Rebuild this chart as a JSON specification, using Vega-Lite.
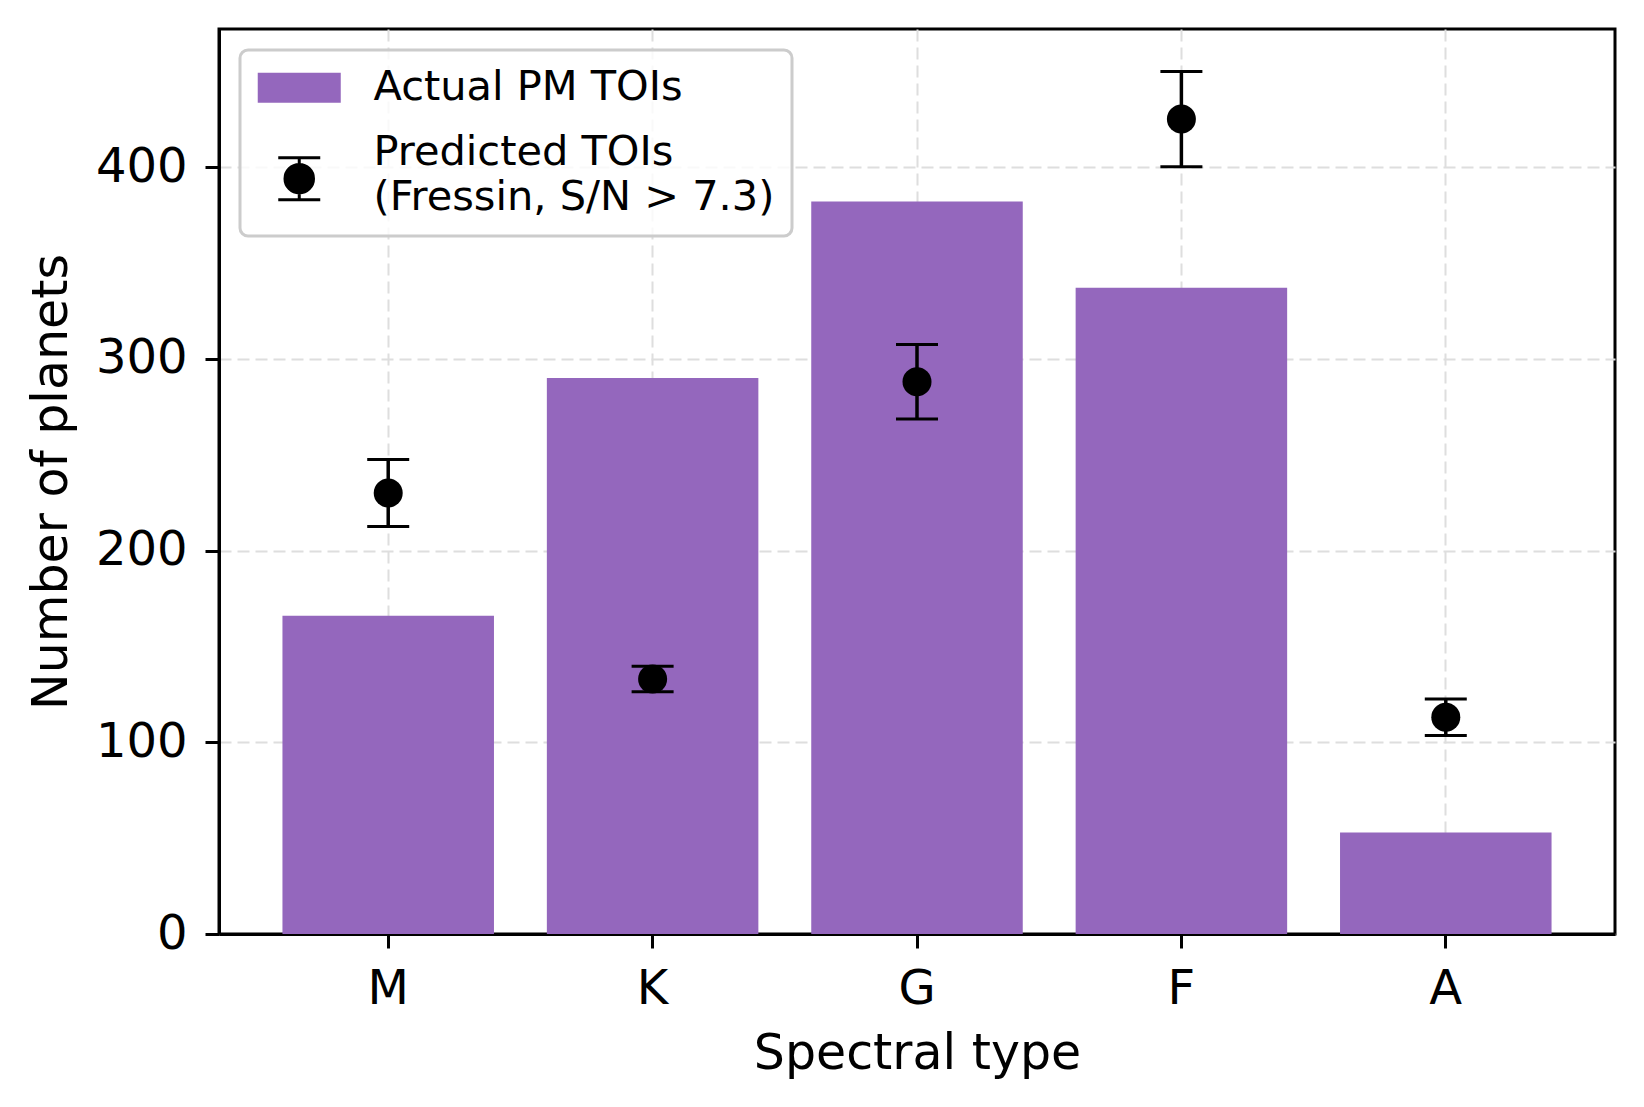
{
  "$schema": "https://vega.github.io/schema/vega-lite/v6.json",
  "width": 1396,
  "height": 905,
  "autosize": {"type": "none"},
  "padding": {"left": 219, "top": 29, "right": 30, "bottom": 173},
  "background": "white",
  "config": {
    "font": "DejaVu Sans",
    "view": {"stroke": "black", "strokeWidth": 3},
    "axis": {
      "labelFont": "DejaVu Sans",
      "labelFontSize": 48,
      "labelColor": "black",
      "titleFont": "DejaVu Sans",
      "titleFontSize": 49,
      "titleFontWeight": "normal",
      "titleColor": "black",
      "domainColor": "black",
      "domainWidth": 3,
      "tickColor": "black",
      "tickWidth": 3,
      "tickSize": 14,
      "grid": true,
      "gridColor": "#dedede",
      "gridDash": [12, 6],
      "gridWidth": 2
    },
    "legend": {
      "labelFont": "DejaVu Sans",
      "labelFontSize": 41.5,
      "labelColor": "black",
      "labelLimit": 800
    }
  },
  "data": {
    "values": [
      {"type": "M", "actual": 166, "pred": 230, "lo": 212.5, "hi": 247.5},
      {"type": "K", "actual": 290, "pred": 133, "lo": 126.3, "hi": 139.7},
      {"type": "G", "actual": 382, "pred": 288, "lo": 268.6, "hi": 307.4},
      {"type": "F", "actual": 337, "pred": 425, "lo": 400.2, "hi": 449.8},
      {"type": "A", "actual": 53, "pred": 113, "lo": 103.5, "hi": 122.5}
    ]
  },
  "encoding": {
    "x": {
      "field": "type",
      "type": "nominal",
      "sort": null,
      "title": "Spectral type",
      "scale": {"paddingInner": 0.2, "paddingOuter": 0.24},
      "axis": {"labelAngle": 0, "labelPadding": 17, "titlePadding": 16, "bandPosition": 0.5}
    }
  },
  "layer": [
    {
      "mark": {"type": "bar"},
      "encoding": {
        "y": {
          "field": "actual",
          "type": "quantitative",
          "title": "Number of planets",
          "scale": {"domain": [0, 472], "nice": false, "zero": true},
          "axis": {"values": [0, 100, 200, 300, 400], "labelPadding": 18, "titlePadding": 19}
        },
        "color": {
          "datum": "Actual PM TOIs",
          "type": "nominal",
          "scale": {
            "domain": ["Actual PM TOIs", "Predicted TOIs|(Fressin, S/N > 7.3)"],
            "range": ["#9467bd", "black"]
          },
          "legend": {
            "title": null,
            "orient": "top-left",
            "offset": 21,
            "padding": 17,
            "strokeColor": "#cccccc",
            "cornerRadius": 8,
            "fillColor": "rgba(255,255,255,0.8)",
            "symbolSize": 900,
            "symbolOffset": 21.5,
            "labelOffset": 53.5,
            "rowPadding": 22,
            "labelExpr": "split(datum.label, '|')",
            "encode": {
              "legend": {
                "update": {"strokeWidth": {"value": 3}}
              },
              "symbols": {
                "update": {
                  "shape": {"signal": "datum.value === 'Actual PM TOIs' ? 'M-2.767,-1H2.767V1H-2.767Z' : 'M0,0.33V3.13M-1.4,0.33H1.4M-1.4,3.13H1.4M0.95,1.73A0.95,0.95,0,1,1,-0.95,1.73A0.95,0.95,0,1,1,0.95,1.73Z'"},
                  "fill": {"signal": "datum.value === 'Actual PM TOIs' ? '#9467bd' : 'black'"},
                  "stroke": {"signal": "datum.value === 'Actual PM TOIs' ? '#9467bd' : 'black'"},
                  "strokeWidth": {"signal": "datum.value === 'Actual PM TOIs' ? 0 : 3"},
                  "opacity": {"value": 1}
                }
              },
              "labels": {
                "update": {"lineHeight": {"value": 45}}
              }
            }
          }
        }
      }
    },
    {
      "mark": {"type": "rule", "color": "black", "strokeWidth": 3.5},
      "encoding": {
        "y": {"field": "lo", "type": "quantitative", "title": "Number of planets"},
        "y2": {"field": "hi"}
      }
    },
    {
      "mark": {"type": "tick", "color": "black", "size": 42, "thickness": 3, "opacity": 1},
      "encoding": {
        "y": {"field": "lo", "type": "quantitative", "title": "Number of planets"}
      }
    },
    {
      "mark": {"type": "tick", "color": "black", "size": 42, "thickness": 3, "opacity": 1},
      "encoding": {
        "y": {"field": "hi", "type": "quantitative", "title": "Number of planets"}
      }
    },
    {
      "mark": {"type": "point", "filled": true, "size": 841, "opacity": 1, "shape": "circle"},
      "encoding": {
        "y": {"field": "pred", "type": "quantitative", "title": "Number of planets"},
        "color": {"datum": "Predicted TOIs|(Fressin, S/N > 7.3)", "type": "nominal"}
      }
    }
  ]
}
